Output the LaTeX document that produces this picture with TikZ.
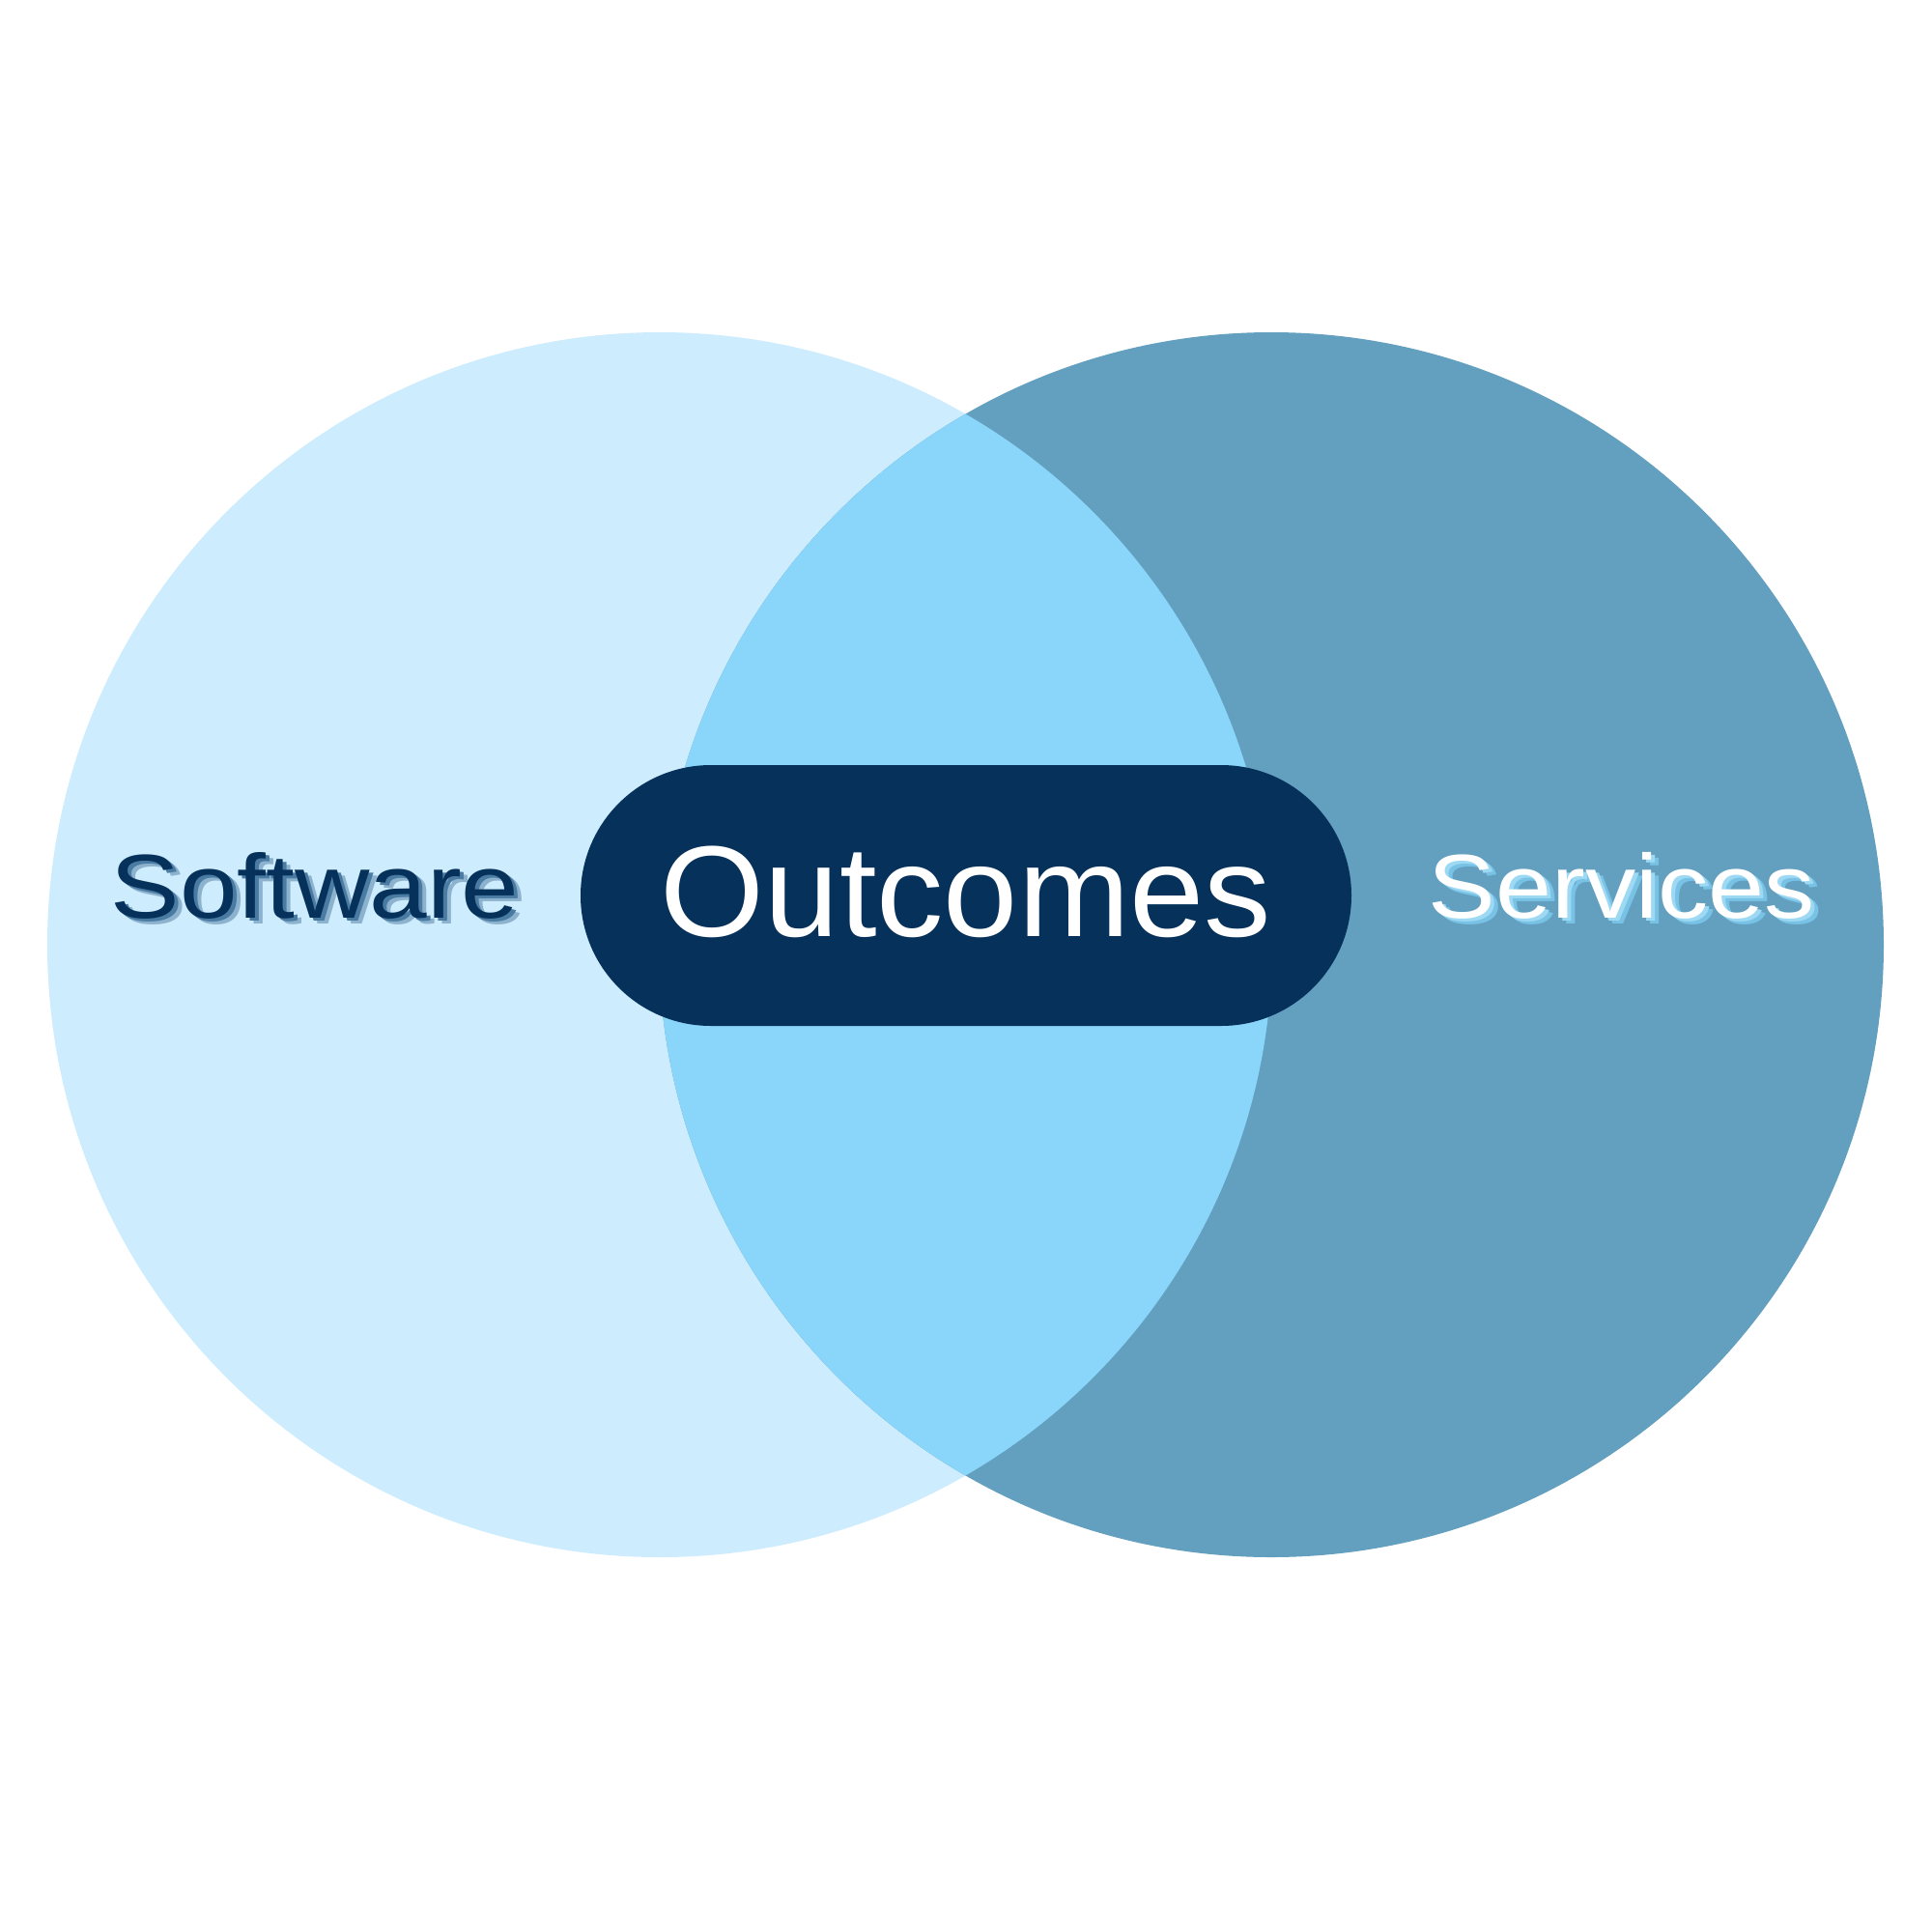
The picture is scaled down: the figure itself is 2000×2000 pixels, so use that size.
\documentclass[tikz,border=0pt]{standalone}
\usepackage{fontspec}
\setmainfont{Liberation Sans}
\definecolor{leftc}{HTML}{CDECFD}
\definecolor{rightc}{HTML}{639FBF}
\definecolor{midc}{HTML}{89D6FA}
\definecolor{navy}{HTML}{06315A}
\definecolor{swshA}{HTML}{4A7BA2}
\definecolor{swshB}{HTML}{8DB2CE}
\definecolor{svshA}{HTML}{9ED9F4}
\definecolor{svshB}{HTML}{78C2E6}
% stacked-shadow text: {main colour}{near shadow}{far shadow}{x scale}{text}
\newcommand\shadowlbl[5]{%
  \makebox[0pt][l]{\hspace{8pt}\raisebox{-6pt}{\textcolor{#3}{\scalebox{#4}[1]{#5}}}}%
  \makebox[0pt][l]{\hspace{4pt}\raisebox{-3pt}{\textcolor{#2}{\scalebox{#4}[1]{#5}}}}%
  \textcolor{#1}{\scalebox{#4}[1]{#5}}}
\tikzset{
  pill/.style={fill=navy, rounded corners=135pt, minimum width=798pt, minimum height=270pt,
    inner sep=0pt, text=white, text depth=8pt, font=\fontsize{134}{140}\selectfont},
  lbl/.style={anchor=base, inner sep=0pt, font=\fontsize{94}{100}\selectfont},
}
\begin{document}
\begin{tikzpicture}[x=1pt,y=-1pt]
\useasboundingbox (0,0) rectangle (2000,2000);
\fill[leftc] (683,978) circle (634pt);
\fill[rightc] (1316,978) circle (634pt);
\begin{scope}
  \clip (683,978) circle (634pt);
  \fill[midc] (1316,978) circle (634pt);
\end{scope}
\node[pill] (out) at (1000,927) {\scalebox{1.035}[1]{Outcomes}};
\node[lbl] (sw) at (326,950) {\shadowlbl{navy}{swshA}{swshB}{1.14}{Software}};
\node[lbl] (sv) at (1679,950) {\shadowlbl{white}{svshA}{svshB}{1.11}{Services}};
\end{tikzpicture}
\end{document}
